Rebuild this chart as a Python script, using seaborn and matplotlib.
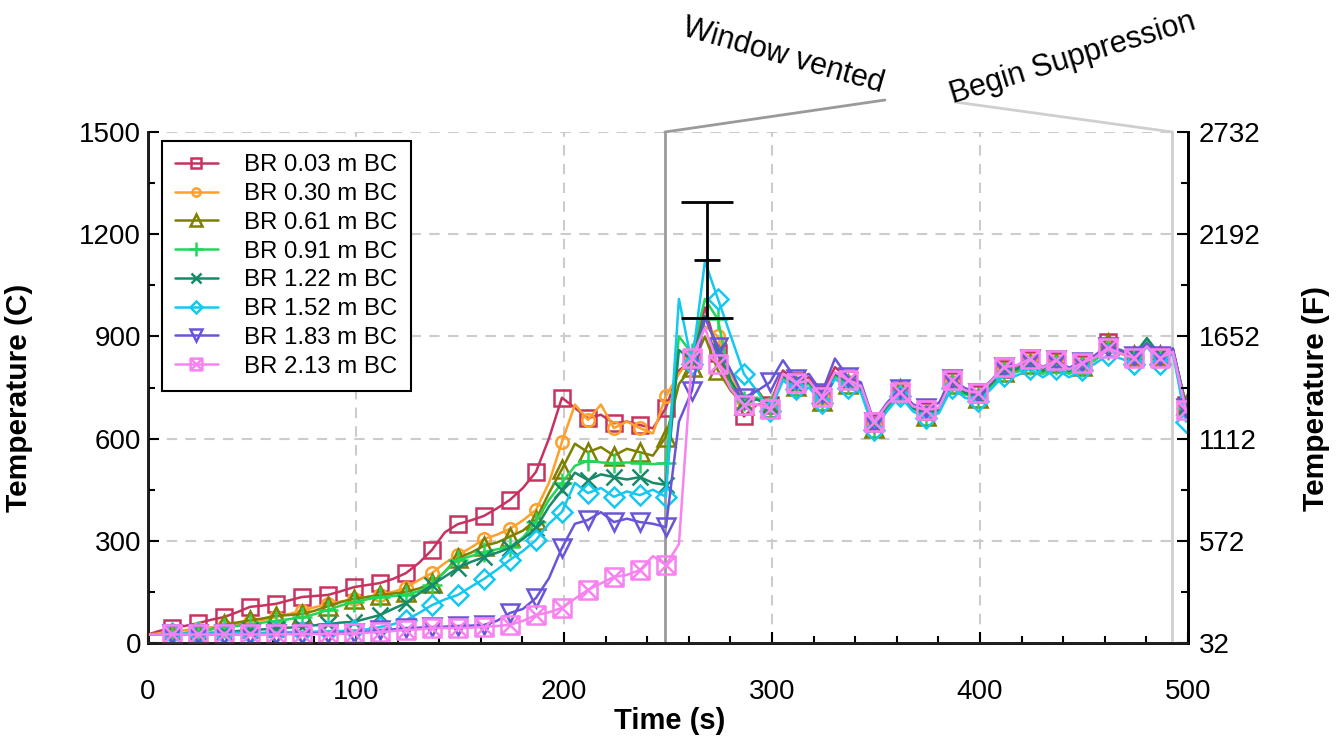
import numpy as np
import pandas as pd
import matplotlib
matplotlib.use("Agg")
import matplotlib.pyplot as plt
import seaborn as sns
from matplotlib.path import Path
from matplotlib.ticker import MultipleLocator

# ---------------- data ----------------
time_s = [0, 5.25, 11.5, 17.75, 24, 30.25, 36.5, 42.75, 49, 55.25, 61.5, 67.75, 74, 80.25,
          86.5, 92.75, 99, 105.25, 111.5, 117.75, 124, 130.25, 136.5, 142.75, 149, 155.25,
          161.5, 167.75, 174, 180.25, 186.5, 192.75, 199, 205.25, 211.5, 217.75, 224, 230.25,
          236.5, 242.75, 249, 255.25, 261.5, 267.75, 274, 280.25, 286.5, 292.75, 299, 305.25,
          311.5, 317.75, 324, 330.25, 336.5, 342.75, 349, 355.25, 361.5, 367.75, 374, 380.25,
          386.5, 392.75, 399, 405.25, 411.5, 417.75, 424, 430.25, 436.5, 442.75, 449, 455.25,
          461.5, 467.75, 474, 480.25, 486.5, 492.75, 499]

br_003 = [25, 35, 45, 50, 58, 68, 76, 90, 106, 110, 115, 125, 135, 138, 141, 152, 164, 170, 176, 188,
          205, 235, 273, 325, 349, 360, 373, 395, 420, 455, 502, 600, 720, 690, 660, 670, 645, 650, 640, 630,
          690, 800, 830, 985, 850, 760, 665, 700, 700, 800, 770, 780, 730, 810, 775, 760, 645, 700, 740, 700,
          680, 690, 770, 742, 730, 765, 805, 812, 830, 805, 828, 800, 820, 840, 885, 855, 838, 885, 840, 860, 700]
br_030 = [25, 28, 35, 38, 42, 46, 50, 55, 62, 68, 76, 85, 95, 105, 114, 122, 129, 135, 142, 150,
          162, 185, 205, 235, 258, 280, 305, 318, 335, 360, 390, 470, 590, 700, 655, 700, 631, 650, 631, 615,
          725, 790, 840, 930, 900, 790, 710, 720, 700, 785, 760, 770, 720, 790, 765, 745, 640, 695, 735, 690,
          678, 688, 765, 735, 725, 760, 800, 805, 828, 800, 825, 795, 815, 830, 870, 848, 835, 880, 835, 855, 700]
br_061 = [25, 25, 25, 27, 30, 40, 55, 60, 67, 72, 80, 82, 85, 95, 108, 120, 130, 135, 141, 145,
          150, 160, 175, 210, 250, 265, 285, 295, 312, 330, 362, 440, 510, 585, 560, 575, 550, 570, 560, 550,
          605, 760, 810, 900, 800, 740, 700, 745, 690, 780, 755, 765, 710, 785, 760, 740, 630, 690, 745, 690,
          665, 680, 760, 730, 720, 755, 795, 800, 820, 795, 822, 795, 812, 835, 880, 855, 845, 885, 845, 860, 700]
br_091 = [25, 25, 28, 30, 35, 40, 45, 50, 55, 60, 65, 70, 75, 85, 97, 110, 120, 128, 135, 138,
          141, 152, 170, 210, 244, 255, 267, 275, 282, 310, 355, 420, 470, 520, 535, 530, 528, 530, 528, 525,
          528, 900, 850, 1010, 950, 760, 710, 720, 695, 780, 750, 760, 715, 785, 760, 740, 635, 690, 730, 690,
          670, 680, 760, 730, 720, 755, 795, 795, 815, 790, 815, 790, 810, 830, 860, 850, 840, 890, 840, 860, 690]
br_122 = [25, 25, 25, 27, 28, 30, 32, 35, 38, 40, 42, 45, 48, 52, 55, 60, 62, 72, 82, 100,
          117, 145, 170, 195, 220, 238, 252, 265, 279, 305, 337, 400, 449, 500, 478, 495, 487, 480, 487, 470,
          464, 860, 830, 960, 860, 770, 705, 715, 695, 785, 755, 765, 720, 790, 765, 745, 640, 695, 735, 690,
          672, 685, 765, 735, 722, 760, 800, 805, 825, 800, 825, 800, 818, 840, 870, 860, 845, 895, 845, 862, 695]
br_152 = [25, 25, 30, 28, 30, 28, 30, 30, 30, 30, 32, 32, 33, 33, 35, 35, 37, 40, 47, 55,
          67, 88, 111, 128, 141, 165, 188, 215, 244, 270, 302, 350, 385, 470, 440, 455, 429, 445, 434, 450,
          429, 1010, 820, 1120, 1010, 900, 790, 740, 680, 770, 745, 750, 705, 775, 750, 735, 625, 680, 725, 680,
          660, 675, 750, 720, 710, 745, 785, 785, 805, 780, 805, 780, 800, 820, 845, 835, 820, 870, 820, 850, 650]
br_183 = [25, 25, 25, 25, 25, 25, 25, 25, 25, 26, 26, 27, 27, 28, 28, 30, 30, 33, 38, 40,
          44, 45, 47, 48, 50, 51, 53, 65, 88, 100, 132, 190, 279, 350, 361, 384, 355, 365, 355, 350,
          340, 650, 740, 955, 870, 800, 720, 740, 765, 830, 775, 790, 735, 835, 780, 765, 650, 705, 745, 700,
          690, 705, 775, 748, 735, 770, 810, 815, 835, 810, 832, 808, 825, 845, 870, 858, 842, 880, 842, 865, 690]
br_213 = [25, 25, 25, 25, 25, 25, 25, 25, 25, 25, 25, 26, 26, 26, 27, 27, 28, 30, 32, 35,
          38, 40, 44, 44, 44, 45, 47, 50, 53, 65, 82, 90, 103, 130, 156, 175, 194, 200, 214, 255,
          229, 290, 837, 925, 820, 745, 700, 700, 688, 790, 763, 770, 722, 795, 772, 755, 648, 700, 737, 695,
          684, 690, 772, 742, 734, 768, 810, 815, 834, 808, 831, 803, 822, 838, 866, 850, 836, 870, 836, 855, 684]

series_labels = ["BR 0.03 m BC", "BR 0.30 m BC", "BR 0.61 m BC", "BR 0.91 m BC",
                 "BR 1.22 m BC", "BR 1.52 m BC", "BR 1.83 m BC", "BR 2.13 m BC"]
series_values = [br_003, br_030, br_061, br_091, br_122, br_152, br_183, br_213]

x_ticks = [0, 100, 200, 300, 400, 500]
y_ticks_c = [0, 300, 600, 900, 1200, 1500]
y_ticks_f_labels = ["32", "572", "1112", "1652", "2192", "2732"]

err_time = [268.75]
err_mean = [1124]
err_half = [170]

event_times = [248.5, 492.5]
event_labels = ["Window vented", "Begin Suppression"]

# ---------------- style ----------------
sns.set_theme(style="white")
plt.rcParams["font.family"] = ["Liberation Sans", "DejaVu Sans"]
for key in ["text.color", "axes.labelcolor", "xtick.color", "ytick.color"]:
    plt.rcParams[key] = "black"

colors = ["#c8325f", "#ffa028", "#7f7f00", "#22d65a", "#178a6a", "#14c8f0", "#6a55d8", "#f882f0"]

# square with an X inside (pink marker)
boxx = Path([(-1, -1), (1, -1), (1, 1), (-1, 1), (-1, -1), (-1, -1), (1, 1), (-1, 1), (1, -1)],
            [Path.MOVETO, Path.LINETO, Path.LINETO, Path.LINETO, Path.CLOSEPOLY,
             Path.MOVETO, Path.LINETO, Path.MOVETO, Path.LINETO])
markers = ["s", "o", "^", "+", "x", "D", "v", boxx]
msizes = [12, 9, 13, 15, 12, 10, 13, 13]

fig = plt.figure(figsize=(13.39, 7.47), dpi=100)
ax = fig.add_axes([148 / 1339, 1 - 643 / 747, 1040 / 1339, 511 / 747])

# event lines
ax.axvline(event_times[0], color="#9a9a9a", lw=2, zorder=1)
ax.axvline(event_times[1], color="#cfcfcf", lw=2, zorder=1)

for vals, lab, col, mk, ms in zip(series_values, series_labels, colors, markers, msizes):
    df = pd.DataFrame({"Time": time_s, "Temp": vals})
    sns.lineplot(data=df, x="Time", y="Temp", ax=ax, color=col, lw=1.8, label=lab,
                 marker=mk, markersize=ms, markevery=(2, 2), mfc="none", mec=col,
                 mew=1.8, sort=False, errorbar=None, zorder=3)

ax.errorbar(err_time, err_mean, yerr=err_half, fmt="_", color="black", ecolor="black",
            elinewidth=2, capsize=19, capthick=2, markersize=19, mew=2, zorder=5)

ax.set_xlim(0, 500)
ax.set_ylim(0, 1500)
ax.set_xticks(x_ticks)
ax.set_yticks(y_ticks_c)
ax.xaxis.set_minor_locator(MultipleLocator(20))
ax.yaxis.set_minor_locator(MultipleLocator(150))
ax.grid(True, which="major", color="#cccccc", linestyle=(0, (5, 4)), lw=1.5, zorder=0)
ax.tick_params(which="both", direction="in", labelsize=20, color="black", width=1.5,
               bottom=True, left=True, top=False, right=False)
ax.tick_params(which="major", length=8)
ax.tick_params(which="minor", length=5)
ax.tick_params(axis="x", which="major", pad=26)
ax.tick_params(axis="y", which="major", pad=5)
for s in ["left", "bottom", "right"]:
    ax.spines[s].set_color("black")
    ax.spines[s].set_linewidth(2)
ax.spines["top"].set_visible(False)
ax.set_xlabel("Time (s)", fontsize=21, fontweight="bold")
ax.set_ylabel("Temperature (C)", fontsize=21.5, fontweight="bold")
ax.xaxis.set_label_coords(0.502, -0.125)
ax.yaxis.set_label_coords(-0.111, 0.479)

ax2 = ax.twinx()
ax2.set_ylim(0, 1500)
ax2.set_yticks(y_ticks_c)
ax2.set_yticklabels(y_ticks_f_labels)
ax2.yaxis.set_minor_locator(MultipleLocator(150))
ax2.tick_params(which="both", direction="in", labelsize=20, color="black", width=1.5, right=True)
ax2.tick_params(which="major", length=8, pad=8)
ax2.tick_params(which="minor", length=5)
ax2.spines["top"].set_visible(False)
ax2.spines["right"].set_color("black")
ax2.spines["right"].set_linewidth(2)
ax2.set_ylabel("Temperature (F)", fontsize=21.5, fontweight="bold")
ax2.yaxis.set_label_coords(1.11, 0.479)
ax2.grid(False)

leg = ax.legend(loc="upper left", bbox_to_anchor=(0.013, 0.982), fontsize=17.3, frameon=True,
                fancybox=False, edgecolor="black", framealpha=1, borderpad=0.55,
                labelspacing=0.28, handlelength=1.8, handletextpad=1.1, markerscale=0.65,
                borderaxespad=0)
leg.get_frame().set_linewidth(1.5)

# annotation connectors and labels
ax.annotate("", xy=(event_times[0], 1500), xycoords="data", xytext=(885, 747 - 100),
            textcoords="figure pixels",
            arrowprops=dict(arrowstyle="-", color="#9a9a9a", lw=2, shrinkA=0, shrinkB=0))
ax.annotate("", xy=(event_times[1], 1500), xycoords="data", xytext=(955, 747 - 102),
            textcoords="figure pixels",
            arrowprops=dict(arrowstyle="-", color="#cfcfcf", lw=2, shrinkA=0, shrinkB=0))
fig.text(783 / 1339, 1 - 56 / 747, event_labels[0], rotation=-16, ha="center", va="center",
         rotation_mode="anchor", fontsize=22)
fig.text(1073 / 1339, 1 - 58 / 747, event_labels[1], rotation=17, ha="center", va="center",
         rotation_mode="anchor", fontsize=22)

fig.savefig("out.png", dpi=100)
